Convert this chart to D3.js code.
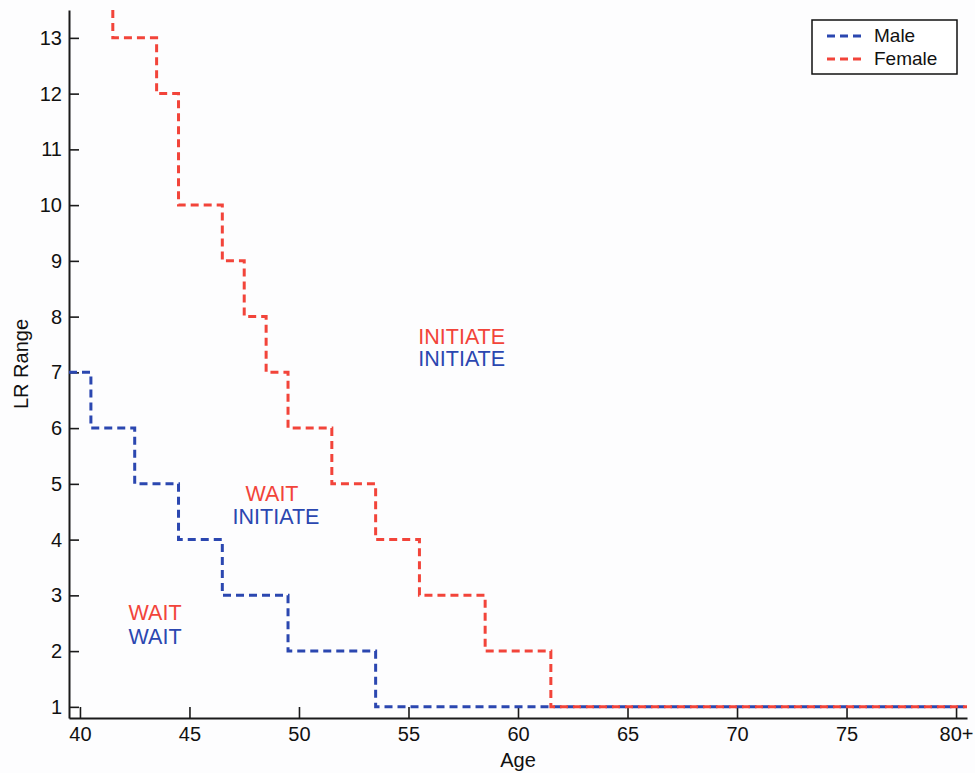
<!DOCTYPE html>
<html>
<head>
<meta charset="utf-8">
<script src="https://cdn.jsdelivr.net/npm/d3@7"></script>
<style>
  body { margin: 0; background: #fdfdfe; }
  svg { display: block; font-family: "Liberation Sans", Arial, Helvetica, sans-serif; }
</style>
</head>
<body>
<svg width="975" height="773"></svg>
<script>
// Step breakpoints (age, LR range), drawn with a step-after curve
const maleAge = [39.5, 40.5, 42.5, 44.5, 46.5, 49.5, 53.5, 80.5];
const maleLR = [7, 6, 5, 4, 3, 2, 1, 1];

const femaleAge = [41.5, 41.5, 43.5, 44.5, 46.5, 47.5, 48.5, 49.5, 51.5, 53.5, 55.5, 58.5, 61.5, 80.5];
const femaleLR = [13.5, 13, 12, 10, 9, 8, 7, 6, 5, 4, 3, 2, 1, 1];

const xTicks = [40, 45, 50, 55, 60, 65, 70, 75, 80];
const xTickLabels = ["40", "45", "50", "55", "60", "65", "70", "75", "80+"];
const yTicks = [1, 2, 3, 4, 5, 6, 7, 8, 9, 10, 11, 12, 13];

// Region annotations
const noteText = ["INITIATE", "INITIATE", "WAIT", "INITIATE", "WAIT", "WAIT"];
const noteSex = ["Female", "Male", "Female", "Male", "Female", "Male"];
const noteAge = [57.43, 57.43, 48.77, 48.95, 43.43, 43.43];
const noteLR = [7.51, 7.12, 4.70, 4.28, 2.56, 2.13];

const colors = { Male: "#2b47b0", Female: "#f2443a" };

const svg = d3.select("svg"),
      width = +svg.attr("width"),
      height = +svg.attr("height"),
      margin = { top: 10, right: 8, bottom: 55, left: 69 };

const x = d3.scaleLinear()
  .domain([39.5, 80.5])
  .range([margin.left, width - margin.right]);

const y = d3.scaleLinear()
  .domain([0.8, 13.5])
  .range([height - margin.bottom, margin.top]);

// Axes (ticks point inward)
const xAxis = svg.append("g")
  .attr("transform", `translate(0,${height - margin.bottom})`)
  .call(d3.axisBottom(x)
    .tickValues(xTicks)
    .tickFormat((d, i) => xTickLabels[i])
    .tickSizeInner(-11)
    .tickSizeOuter(0)
    .tickPadding(9));

const yAxis = svg.append("g")
  .attr("transform", `translate(${margin.left},0)`)
  .call(d3.axisLeft(y)
    .tickValues(yTicks)
    .tickSizeInner(-10)
    .tickSizeOuter(0)
    .tickPadding(7));

[xAxis, yAxis].forEach(ax => {
  ax.select(".domain").attr("stroke", "#1a1a1a").attr("stroke-width", 2);
  ax.selectAll(".tick line").attr("stroke", "#1a1a1a").attr("stroke-width", 1.6);
  ax.selectAll(".tick text").attr("font-size", 20).attr("fill", "#111");
});

// Axis labels
svg.append("text")
  .attr("x", (margin.left + width - margin.right) / 2)
  .attr("y", 767)
  .attr("text-anchor", "middle")
  .attr("font-size", 20)
  .attr("fill", "#111")
  .text("Age");

svg.append("text")
  .attr("transform", "rotate(-90)")
  .attr("x", -(margin.top + height - margin.bottom) / 2)
  .attr("y", 28)
  .attr("text-anchor", "middle")
  .attr("font-size", 20)
  .attr("fill", "#111")
  .text("LR Range");

// Step lines
const line = d3.line()
  .x(d => x(d[0]))
  .y(d => y(d[1]))
  .curve(d3.curveStepAfter);

const series = [
  { name: "Male", pts: d3.zip(maleAge, maleLR) },
  { name: "Female", pts: d3.zip(femaleAge, femaleLR) }
];

svg.append("g")
  .selectAll("path")
  .data(series)
  .join("path")
  .attr("d", d => line(d.pts))
  .attr("fill", "none")
  .attr("stroke", d => colors[d.name])
  .attr("stroke-width", 3)
  .attr("stroke-dasharray", "8,5");

// Annotations
svg.append("g")
  .selectAll("text")
  .data(noteText)
  .join("text")
  .attr("x", (d, i) => x(noteAge[i]))
  .attr("y", (d, i) => y(noteLR[i]))
  .attr("text-anchor", "middle")
  .attr("font-size", 21.5)
  .attr("fill", (d, i) => colors[noteSex[i]])
  .text(d => d);

// Legend
const legend = svg.append("g").attr("transform", "translate(812,20)");

legend.append("rect")
  .attr("width", 145)
  .attr("height", 54)
  .attr("fill", "#fff")
  .attr("stroke", "#111")
  .attr("stroke-width", 1.5);

const items = legend.selectAll("g.item")
  .data(series)
  .join("g")
  .attr("class", "item")
  .attr("transform", (d, i) => `translate(0,${16 + i * 23})`);

items.append("line")
  .attr("x1", 15)
  .attr("x2", 51)
  .attr("stroke", d => colors[d.name])
  .attr("stroke-width", 3)
  .attr("stroke-dasharray", "8,5");

items.append("text")
  .attr("x", 62)
  .attr("y", 6)
  .attr("font-size", 19)
  .attr("fill", "#111")
  .text(d => d.name);
</script>
</body>
</html>
